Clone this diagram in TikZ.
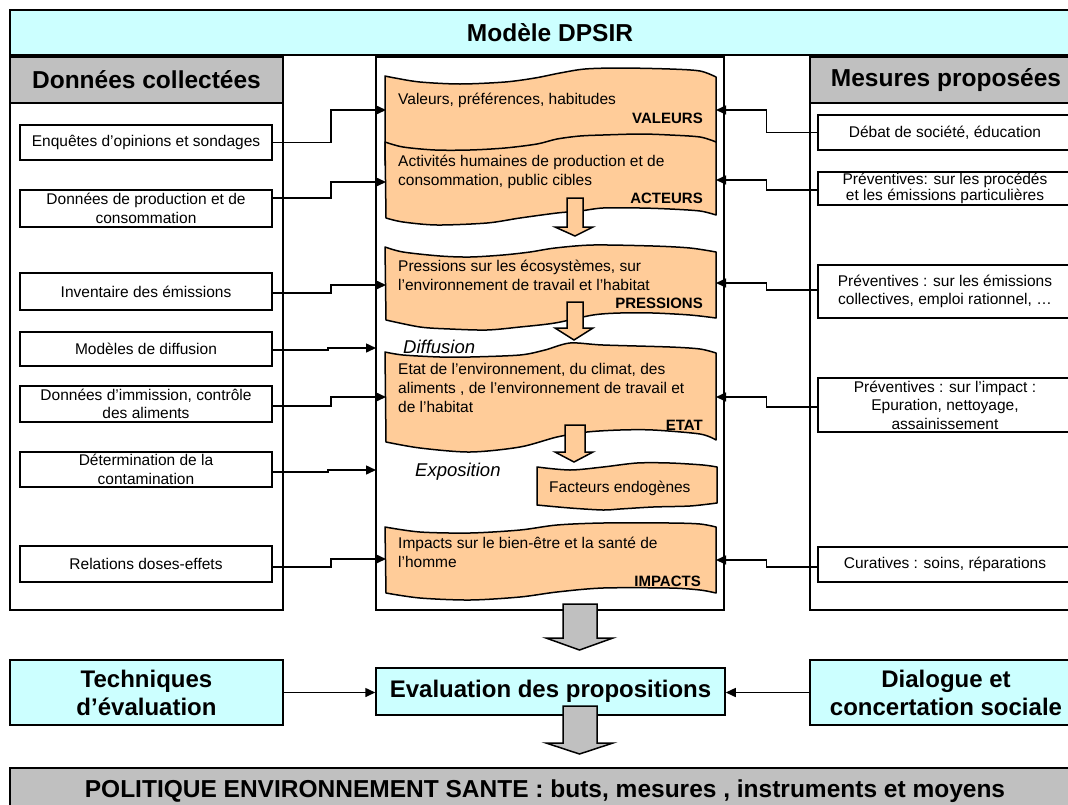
\documentclass[tikz,border=0pt]{standalone}
\usepackage{fontspec}
\setmainfont{Liberation Sans}
\usetikzlibrary{arrows.meta}
\definecolor{cyanf}{HTML}{CCFFFF}
\definecolor{grayf}{HTML}{C0C0C0}
\definecolor{orangef}{HTML}{FFCC99}
\begin{document}
\begin{tikzpicture}[x=1pt,y=-1pt,line join=miter,
  frame/.style={draw,line width=1.5pt},
  hdr/.style={draw,line width=1.5pt,fill=grayf,inner sep=0pt,font=\fontsize{24.5}{28}\selectfont\bfseries},
  cyanbox/.style={draw,line width=1.5pt,fill=cyanf,inner sep=0pt,align=center,font=\fontsize{24}{28}\selectfont\bfseries},
  item/.style={draw,line width=1.5pt,fill=white,inner sep=0pt,align=center,font=\fontsize{15.5}{18.5}\selectfont},
  wave/.style={draw,line width=1.5pt,fill=orangef,line join=round},
  otext/.style={inner sep=0pt,anchor=west,align=left,font=\fontsize{15.5}{19}\selectfont},
  olabel/.style={inner sep=0pt,anchor=east,font=\fontsize{15}{18}\selectfont\bfseries},
  itl/.style={inner sep=0pt,font=\fontsize{18.5}{22}\selectfont\itshape},
  oarrow/.style={draw,line width=1.5pt,fill=orangef},
  garrow/.style={draw,line width=1.5pt,fill=grayf},
  conn/.style={line width=1.5pt,-{Triangle[length=10pt,width=9pt]}}]
\useasboundingbox (0,0) rectangle (1068,804);
% title
\node[cyanbox,minimum width=1080,minimum height=45,font=\fontsize{24.5}{28}\selectfont\bfseries] (title) at (550,32.5) {Modèle DPSIR};
% columns
\draw[frame,fill=white] (10,57) rectangle (283,610);
\draw[frame,fill=white] (810,57) rectangle (1082,610);
\draw[frame,fill=white] (376,57) rectangle (724,610);
\node[hdr,minimum width=273,minimum height=46] (lh) at (146.5,80) {Données collectées};
\node[hdr,minimum width=272,minimum height=46] (rh) at (946,80) {Mesures proposées};
% orange wave boxes
\path[wave] plot[smooth] coordinates {(385,76) (395,78) (420,82) (460,84) (505,82) (535,78) (560,73) (585,69) (620,68) (670,69) (700,71) (716,77)} -- (716,165) -- (385,165) -- cycle;
\path[wave] plot[smooth] coordinates {(385,142) (403,147) (435,150) (470,150) (505,148) (537,144) (557,139) (580,136) (603,135) (640,134) (670,135) (700,137) (716,142)}
  -- plot[smooth] coordinates {(716,215) (700,211) (670,209) (640,208) (603,208) (580,211) (557,213) (520,218) (487,223) (437,225) (403,222) (386,218)} -- cycle;
\path[wave] plot[smooth] coordinates {(385,247) (403,252) (440,256) (470,257) (503,255) (530,252) (555,248) (593,245) (653,246) (690,248) (716,252)}
  -- plot[smooth] coordinates {(716,318) (690,315) (653,313) (620,313) (593,315) (555,323) (520,327) (487,330) (450,329) (420,327) (386,320)} -- cycle;
\path[wave] plot[smooth] coordinates {(385,352) (403,355) (440,357) (470,357) (520,355) (545,350) (570,343) (603,345) (670,347) (700,349) (716,353)}
  -- plot[smooth] coordinates {(716,440) (700,434) (653,430) (620,430) (587,432) (557,437) (520,447) (470,452) (420,448) (386,442)} -- cycle;
\path[wave] plot[smooth] coordinates {(537,467) (570,470) (603,467) (637,463) (670,463) (703,465) (717,467)}
  -- plot[smooth] coordinates {(717,503) (690,506) (653,507) (620,509) (603,510) (570,508) (537,505)} -- cycle;
\path[wave] plot[smooth] coordinates {(385,527) (420,532) (470,533) (520,530) (557,525) (603,523) (670,523) (700,524) (716,527)}
  -- plot[smooth] coordinates {(716,593) (700,590) (670,588) (603,588) (557,592) (520,597) (470,600) (420,598) (386,593)} -- cycle;
% orange arrows
\path[oarrow] (567,198) -- (583,198) -- (583,227) -- (593,227) -- (575,236) -- (555,227) -- (567,227) -- cycle;
\path[oarrow] (567,302) -- (583,302) -- (583,328) -- (593,328) -- (574,340) -- (555,328) -- (567,328) -- cycle;
\path[oarrow] (565,425) -- (585,425) -- (585,452) -- (593,452) -- (574,462) -- (555,452) -- (565,452) -- cycle;
% orange texts
\node[otext] (tv) at (398,100) {Valeurs, préférences, habitudes};
\node[olabel] (lv) at (703,118) {VALEURS};
\node[otext] (ta) at (398,172) {Activités humaines de production et de\\consommation, public cibles};
\node[olabel] (la) at (703,198) {ACTEURS};
\node[otext] (tp) at (398,275) {Pressions sur les écosystèmes, sur\\l’environnement de travail et  l’habitat};
\node[olabel] (lp) at (703,303) {PRESSIONS};
\node[otext] (te) at (398,388) {Etat de l’environnement, du climat, des\\aliments , de l’environnement de travail et\\de l’habitat};
\node[olabel] (le) at (703,425) {ETAT};
\node[otext] (tf) at (549,488) {Facteurs endogènes};
\node[otext] (ti) at (398,552) {Impacts sur le bien-être et la santé de\\l’homme};
\node[olabel] (li) at (701,581) {IMPACTS};
\node[itl,anchor=west] (dif) at (403,347) {Diffusion};
\node[itl,anchor=west] (exp) at (415,472) {Exposition};
% left items
\node[item,minimum width=252,minimum height=35] (enq) at (146,142.5) {Enquêtes d’opinions et sondages};
\node[item,minimum width=252,minimum height=37] (dp) at (146,208.5) {Données de production et de\\consommation};
\node[item,minimum width=252,minimum height=37] (inv) at (146,291.5) {Inventaire des émissions};
\node[item,minimum width=252,minimum height=34] (mod) at (146,349) {Modèles de diffusion};
\node[item,minimum width=252,minimum height=36] (imm) at (146,404) {Données d’immission, contrôle\\des aliments};
\node[item,minimum width=252,minimum height=35] (det) at (146,469.5) {Détermination de la\\contamination};
\node[item,minimum width=252,minimum height=36] (rel) at (146,564) {Relations doses-effets};
% right items
\node[item,minimum width=254,minimum height=35] (deb) at (945,132.5) {Débat de société, éducation};
\node[item,minimum width=254,minimum height=33,font=\fontsize{15.5}{16.5}\selectfont] (pp) at (945,188.5) {Préventives:  sur les procédés\\et les émissions particulières};
\node[item,minimum width=254,minimum height=53] (pe) at (945,291.5) {Préventives : sur les émissions\\collectives, emploi rationnel, …};
\node[item,minimum width=254,minimum height=54] (pi) at (945,405) {Préventives : sur l’impact :\\Epuration, nettoyage,\\assainissement};
\node[item,minimum width=254,minimum height=35] (cur) at (945,564.5) {Curatives : soins, réparations};
% target coordinates
\coordinate (tV) at (386,110);
\coordinate (tA) at (386,182);
\coordinate (tP) at (386,285);
\coordinate (tD) at (376,348);
\coordinate (tE) at (386,397);
\coordinate (tX) at (376,470);
\coordinate (tI) at (386,559);
\coordinate (rV) at (716,110);
\coordinate (rA) at (716,180);
\coordinate (rP) at (716,283);
\coordinate (rE) at (716,397);
\coordinate (rI) at (716,560);
% connectors left
\draw[conn] (enq.east) -- ++(58,0) |- (tV);
\draw[conn] ([yshift=10.5pt]dp.east) -- ++(58,0) |- (tA);
\draw[conn] ([yshift=-1.5pt]inv.east) -- ++(58,0) |- (tP);
\draw[conn] ([yshift=-1pt]mod.east) -- ++(55,0) |- (tD);
\draw[conn] ([yshift=-2pt]imm.east) -- ++(58,0) |- (tE);
\draw[conn] ([yshift=-2.5pt]det.east) -- ++(55,0) |- (tX);
\draw[conn] ([yshift=-3pt]rel.east) -- ++(58,0) |- (tI);
% connectors right
\draw[conn] (deb.west) -- ++(-51,0) |- (rV);
\draw[conn] ([yshift=-1.5pt]pp.west) -- ++(-51,0) |- (rA);
\draw[conn] ([yshift=1.5pt]pe.west) -- ++(-51,0) |- (rP);
\draw[conn] ([yshift=-2pt]pi.west) -- ++(-51,0) |- (rE);
\draw[conn] ([yshift=-2.5pt]cur.west) -- ++(-51,0) |- (rI);
% bottom part
\path[garrow] (563,604) -- (597,604) -- (597,638) -- (613,638) -- (579.5,650) -- (546,638) -- (563,638) -- cycle;
\node[cyanbox,minimum width=273,minimum height=65] (tech) at (146.5,692.5) {Techniques\\d’évaluation};
\node[cyanbox,minimum width=349,minimum height=47] (eval) at (550.5,691.5) {Evaluation des propositions};
\node[cyanbox,minimum width=272,minimum height=65] (dia) at (946,692.5) {Dialogue et\\concertation sociale};
\draw[conn] (tech.east) -- (tech.east -| eval.west);
\draw[conn] (dia.west) -- (dia.west -| eval.east);
\path[garrow] (563,706) -- (597,706) -- (597,743) -- (613,743) -- (579.5,754) -- (546,743) -- (563,743) -- cycle;
\node[draw,line width=1.5pt,fill=grayf,inner sep=0pt,minimum width=1070,minimum height=47,font=\fontsize{24.5}{28}\selectfont\bfseries] (pol) at (545,791.5) {POLITIQUE ENVIRONNEMENT SANTE : buts, mesures , instruments et moyens};
\end{tikzpicture}
\end{document}
